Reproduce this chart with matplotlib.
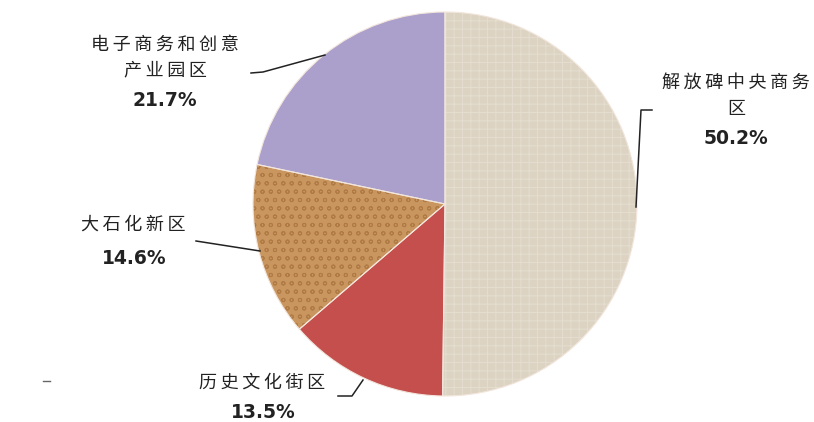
import matplotlib.pyplot as plt

plt.rcParams['font.family'] = ['Noto Sans CJK SC', 'DejaVu Sans']
plt.rcParams['hatch.linewidth'] = 0.7

# slice data, clockwise from 12 o'clock
names = ['解放碑中央商务\n区', '历史文化街区', '大石化新区', '电子商务和创意\n产业园区']
shares = [50.2, 13.5, 14.6, 21.7]
colors = ['#dcd3c2', '#c44f4d', '#c99660', '#ab9fcc']
hatches = ['++', None, 'oo', None]
hatch_cols = ['#e5ddcf', '#c44f4d', '#b07a45', '#ab9fcc']

W, H = 814, 422


def Y(y):
    # image pixel row -> data y
    return H - y


def spaced(s):
    # reference text is letter-spaced
    return '\n'.join('\u2009'.join(line) for line in s.split('\n'))


fig = plt.figure(figsize=(W / 100, H / 100), dpi=100)
ax = fig.add_axes([0, 0, 1, 1])

center = (445, Y(204))
radius = 192

wedges, _ = ax.pie(shares, colors=colors, startangle=90, counterclock=False,
                   center=center, radius=radius, frame=True,
                   wedgeprops=dict(linewidth=0))
for w, h, hc in zip(wedges, hatches, hatch_cols):
    if h:
        w.set_hatch(h)
        w.set_edgecolor(hc)
ax.pie(shares, startangle=90, counterclock=False, center=center, radius=radius,
       frame=True, wedgeprops=dict(fill=False, edgecolor='#f3e6dc', linewidth=0.8))
ax.set_xlim(0, W)
ax.set_ylim(0, H)
ax.set_aspect('equal')
ax.axis('off')

# labels: (name, pct) positions in image pixels
label_pos = [(736, 96), (262, 383), (133, 225), (165, 58)]
pct_pos = [(736, 138), (263, 412), (134, 259), (165, 101)]
for name, s, (lx, ly), (px, py) in zip(names, shares, label_pos, pct_pos):
    ax.text(lx, Y(ly), spaced(name), ha='center', va='center', fontsize=13,
            color='#222222', linespacing=1.55)
    ax.text(px, Y(py), f'{s}%', ha='center', va='center', fontsize=13.5,
            fontweight='bold', family='DejaVu Sans', color='#222222')

# leader lines
leaders = [
    [(652, 110), (641, 110), (636, 207)],
    [(338, 396), (352, 396), (363, 380)],
    [(196, 241), (260, 251)],
    [(251, 73), (263, 72), (325, 55)],
]
for pts in leaders:
    xs = [p[0] for p in pts]
    ys = [Y(p[1]) for p in pts]
    ax.plot(xs, ys, color='#222222', linewidth=1.1)

ax.plot([43, 50], [Y(381), Y(381)], color='#666666', linewidth=1)

fig.savefig('out.png', dpi=100)
